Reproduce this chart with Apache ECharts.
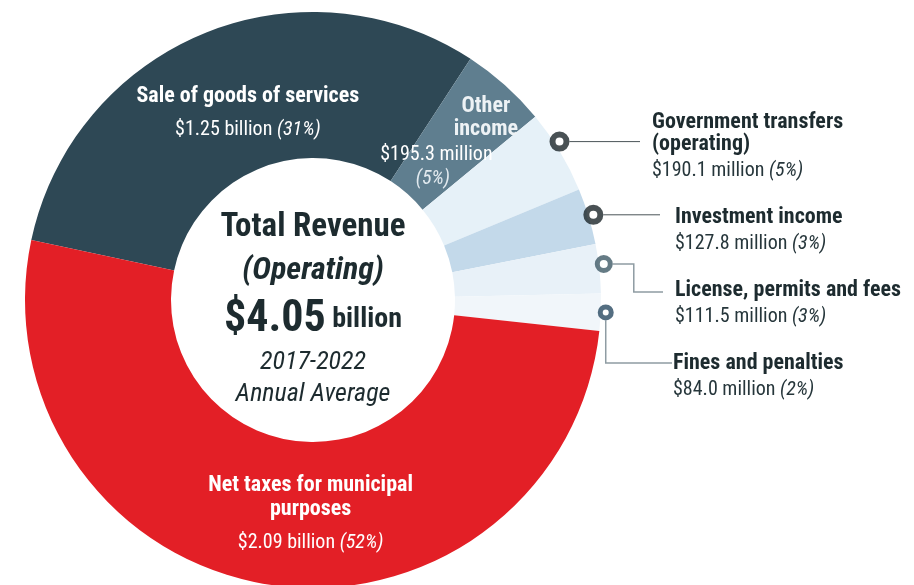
<!DOCTYPE html>
<html>
<head>
<meta charset="utf-8">
<script src="https://cdn.jsdelivr.net/npm/echarts@6/dist/echarts.min.js"></script>
<style>
  html, body { margin: 0; padding: 0; background: #fff; }
  #main { width: 914px; height: 585px; }
</style>
</head>
<body>
<div id="main"></div>
<script>
// data (values in $ millions, 2017-2022 annual average)
var categories = ['Sale of goods of services', 'Other\nincome', 'Government transfers\n(operating)',
    'Investment income', 'License, permits and fees', 'Fines and penalties', 'Net taxes for municipal\npurposes'];
var valuesMillions = [1250, 195.3, 190.1, 127.8, 111.5, 84.0, 2090];
var centerLines = ['Total Revenue', '(Operating)', '2017-2022', 'Annual Average'];

// layout / styles
var CX = 313, CY = 300, R_IN = 142, R_OUT = 288, START = 168;
var FONT = 'Roboto';
var BOLD = 'bold condensed', REG = 'condensed';   // condensed width, like the original type
var sliceColors = ['#2e4855', '#5f7e8f', '#e6f1f8', '#c3d9ea', '#e8f1f8', '#f1f6fa', '#e31f26'];
var insideLabels = [0, 1, 6];
var labelShift = { 0: [9, 10], 1: [-11, 2], 6: [16, 2] };
var markerColors = ['#1b2529', '#1b2529', '#3e5a66', '#294a62'];
var markerSizes = [14, 14, 13, 11];
var markerBorders = [6, 6, 5, 5];
var markerFrac = [0.4, 0.5, 0.42, 0.5];
var markerR = 293;
var sideLabelPos = [[652, 111], [675, 206], [675, 279], [673, 352]];
var textDark = '#1d2b2f';

var total = valuesMillions.reduce(function (a, b) { return a + b; }, 0);

function money(v) {
    return v >= 1000 ? '$' + (v / 1000).toFixed(2) + ' billion' : '$' + v.toFixed(1) + ' million';
}
function pct(v) {
    return '(' + Math.round(v / total * 100) + '%)';
}

var chart = echarts.init(document.getElementById('main'));

var pieData = valuesMillions.map(function (v, i) {
    return {
        name: categories[i],
        value: v,
        itemStyle: { color: sliceColors[i] },
        label: { show: insideLabels.indexOf(i) >= 0 }
    };
});

// ring markers for the small slices, placed on a polar system that matches the pie
var markerData = [];
var cum = 0;
valuesMillions.forEach(function (v, i) {
    if (i >= 2 && i <= 5) {
        var k = i - 2;
        markerData.push({
            value: [markerR, cum + v * markerFrac[k]],
            itemStyle: { color: '#fff', borderColor: markerColors[k], borderWidth: markerBorders[k] }
        });
    }
    cum += v;
});

var richIn = {
    b: { fontFamily: FONT, fontWeight: BOLD, fontSize: 22, color: '#fff', lineHeight: 24 },
    v: { fontFamily: FONT, fontWeight: REG, fontSize: 20, color: '#fff', lineHeight: 44 },
    p: { fontFamily: FONT, fontWeight: REG, fontSize: 20, fontStyle: 'italic', color: '#fff', lineHeight: 44 },
    ob: { fontFamily: FONT, fontWeight: BOLD, fontSize: 22, color: '#edf2f5', lineHeight: 23, padding: [0, 0, 0, 99] },
    ov: { fontFamily: FONT, fontWeight: REG, fontSize: 20, color: '#fff', lineHeight: 29 },
    op: { fontFamily: FONT, fontWeight: REG, fontSize: 20, fontStyle: 'italic', color: '#e2eaef', lineHeight: 19, padding: [0, 7, 0, 0] }
};

chart.setOption({
    animation: false,
    backgroundColor: '#fff',
    title: {
        text: '{t|' + centerLines[0] + '}\n{o|' + centerLines[1] + '}\n{a|$' + (total / 1000).toFixed(2) + '}{u| billion}\n{y|' +
            centerLines[2] + '}\n{y|' + centerLines[3] + '}',
        left: CX,
        top: 208,
        textAlign: 'center',
        padding: 0,
        textStyle: {
            rich: {
                t: { fontFamily: FONT, fontWeight: BOLD, fontSize: 33, color: textDark, lineHeight: 40 },
                o: { fontFamily: FONT, fontWeight: BOLD, fontStyle: 'italic', fontSize: 32, color: textDark, lineHeight: 46 },
                a: { fontFamily: FONT, fontWeight: BOLD, fontSize: 44, color: textDark, lineHeight: 52 },
                u: { fontFamily: FONT, fontWeight: BOLD, fontSize: 28, color: textDark, lineHeight: 52 },
                y: { fontFamily: FONT, fontWeight: REG, fontStyle: 'italic', fontSize: 26, color: textDark, lineHeight: 32 }
            }
        }
    },
    polar: { center: [CX, CY], radius: R_OUT },
    angleAxis: { type: 'value', min: 0, max: total, startAngle: START, clockwise: true, show: false },
    radiusAxis: { type: 'value', min: 0, max: R_OUT, show: false },
    series: [{
        type: 'pie',
        center: [CX, CY],
        radius: [R_IN, R_OUT],
        startAngle: START,
        clockwise: true,
        avoidLabelOverlap: false,
        emphasis: { disabled: true },
        itemStyle: { borderWidth: 0 },
        labelLine: { show: false },
        label: {
            position: 'inside',
            formatter: function (p) {
                if (p.dataIndex === 1) {
                    var nm = p.name.split('\n');
                    return '{ob|' + nm[0] + '}\n{ob|' + nm[1] + '}\n{ov|' + money(p.value) + '}\n{op|' + pct(p.value) + '}';
                }
                var lines = p.name.split('\n').map(function (s) { return '{b|' + s + '}'; }).join('\n');
                return lines + '\n{v|' + money(p.value) + ' }{p|' + pct(p.value) + '}';
            },
            rich: richIn
        },
        labelLayout: function (p) {
            var d = labelShift[p.dataIndex];
            return d ? { dx: d[0], dy: d[1] } : {};
        },
        data: pieData
    }, {
        type: 'scatter',
        coordinateSystem: 'polar',
        symbol: 'circle',
        symbolSize: function (val, params) {
            return markerSizes[params.dataIndex];
        },
        clip: false,
        emphasis: { disabled: true },
        z: 5,
        data: markerData
    }]
});

// leader lines and side labels for the small slices
var graphics = [];
markerData.forEach(function (m, k) {
    var pt = chart.convertToPixel({ seriesIndex: 1 }, m.value);
    var lx = sideLabelPos[k][0], ly = sideLabelPos[k][1] + 11;
    var half = (markerSizes[k] + markerBorders[k]) / 2;
    var pts;
    if (k === 0) {
        pts = [[pt[0] + half, pt[1]], [lx - 12, pt[1]]];
    } else if (k === 1) {
        pts = [[pt[0] + half, pt[1]], [lx - 15, pt[1]]];
    } else if (k === 2) {
        pts = [[pt[0] + half, pt[1]], [pt[0] + 30, pt[1]], [pt[0] + 30, ly + 2], [lx - 12, ly + 2]];
    } else {
        pts = [[pt[0], pt[1] + half], [pt[0], ly], [lx - 1, ly]];
    }
    graphics.push({
        type: 'polyline',
        z: 4,
        shape: { points: pts },
        style: { stroke: k < 2 ? '#4a5458' : '#8f9ca3', lineWidth: k < 2 ? 1 : 1.5, fill: null }
    });
    var idx = k + 2;
    var nm = categories[idx].split('\n').map(function (s) { return '{n|' + s + '}'; }).join('\n');
    graphics.push({
        type: 'text',
        x: sideLabelPos[k][0],
        y: sideLabelPos[k][1],
        z: 6,
        style: {
            text: nm + '\n{v|' + money(valuesMillions[idx]) + ' }{p|' + pct(valuesMillions[idx]) + '}',
            rich: {
                n: { fontFamily: FONT, fontWeight: BOLD, fontSize: 22, fill: textDark, lineHeight: 22 },
                v: { fontFamily: FONT, fontWeight: REG, fontSize: 20, fill: '#26363b', lineHeight: 32 },
                p: { fontFamily: FONT, fontWeight: REG, fontSize: 20, fontStyle: 'italic', fill: '#26363b', lineHeight: 32 }
            }
        }
    });
});
chart.setOption({ graphic: graphics });
</script>
</body>
</html>
